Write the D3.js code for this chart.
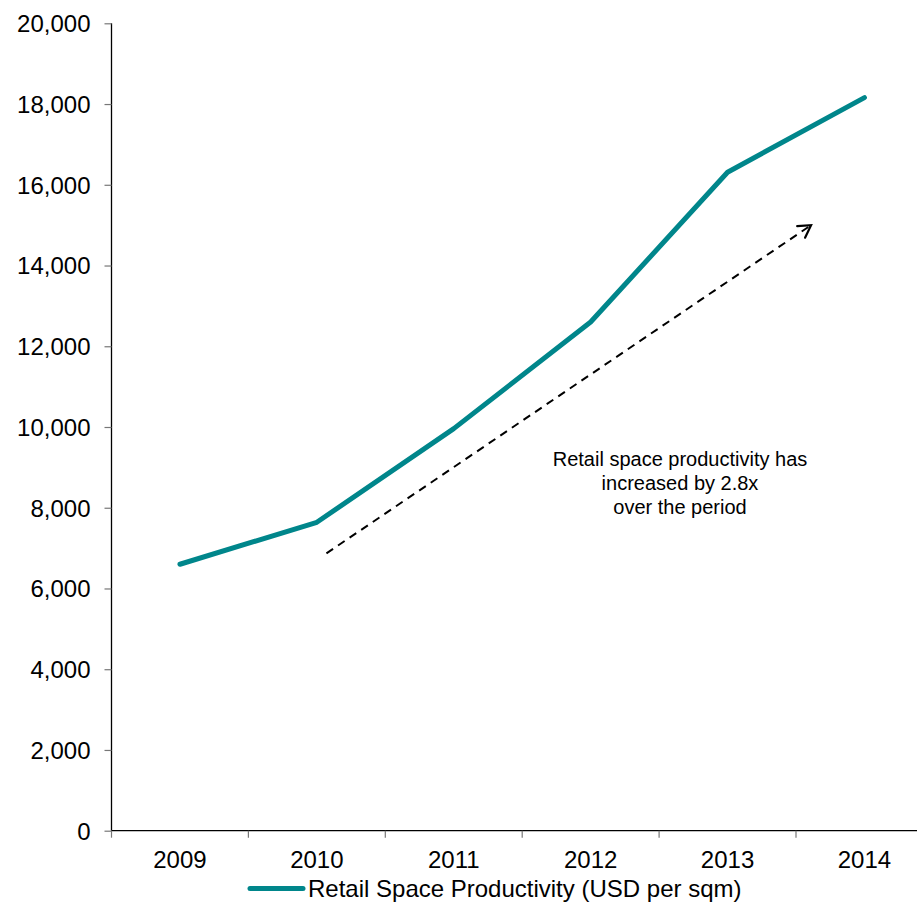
<!DOCTYPE html>
<html>
<head>
<meta charset="utf-8">
<script src="https://cdn.jsdelivr.net/npm/d3@7"></script>
<style>
  html, body { margin: 0; padding: 0; background: #fff; }
  svg { display: block; font-family: "Liberation Sans", Arial, sans-serif; }
</style>
</head>
<body>
<svg id="chart" width="917" height="910"></svg>
<script>
// Retail space productivity, USD per sqm
const years = ["2009", "2010", "2011", "2012", "2013", "2014"];
const productivity = [6600, 7640, 9960, 12600, 16310, 18160];
const yTicks = [0, 2000, 4000, 6000, 8000, 10000, 12000, 14000, 16000, 18000, 20000];
const seriesName = "Retail Space Productivity (USD per sqm)";
const noteLines = ["Retail space productivity has", "increased by 2.8x", "over the period"];
// trend arrow ends: [category position, value]
const trendFrom = [1.57, 6870];
const trendTo = [5.11, 15000];

const teal = "#00868b";
const svg = d3.select("#chart");

const left = 111.5, bandW = 136.9;
const x = d3.scaleBand().domain(years).range([left, left + bandW * years.length]).padding(0);
const y = d3.scaleLinear().domain([0, 20000]).range([830.7, 23.3]);
const xPos = p => left + p * x.bandwidth();

// y axis
const yAxis = d3.axisLeft(y).tickValues(yTicks).tickFormat(d3.format(",")).tickSize(7).tickPadding(14);
const gy = svg.append("g").attr("transform", `translate(${left},0)`).call(yAxis);
gy.select(".domain").attr("stroke", "#000").attr("stroke-width", 1.3).attr("d", `M0,${y(20000)}V${y(0)}`);
gy.selectAll(".tick line").attr("stroke", "#777").attr("stroke-width", 1.2);
gy.selectAll(".tick text").attr("font-size", 24).attr("fill", "#000")
  .attr("font-family", "'Liberation Sans', Arial, sans-serif").attr("dy", "0.35em");

// x axis with ticks on the category boundaries
const gx = svg.append("g").attr("transform", `translate(0,${y(0)})`);
gx.append("line").attr("x1", left).attr("x2", 917).attr("stroke", "#000").attr("stroke-width", 1.3);
gx.selectAll("line.bound").data(years).join("line").attr("class", "bound")
  .attr("x1", d => x(d)).attr("x2", d => x(d)).attr("y1", 0).attr("y2", 7)
  .attr("stroke", "#777").attr("stroke-width", 1.2);
gx.selectAll("text").data(years).join("text")
  .attr("x", d => x(d) + x.bandwidth() / 2).attr("y", 37)
  .attr("text-anchor", "middle").attr("font-size", 24).attr("fill", "#000").text(d => d);

// series line
const pts = years.map((yr, i) => [x(yr) + x.bandwidth() / 2, y(productivity[i])]);
svg.append("path").datum(pts)
  .attr("d", d3.line())
  .attr("fill", "none").attr("stroke", teal).attr("stroke-width", 5)
  .attr("stroke-linecap", "round").attr("stroke-linejoin", "round");

// dashed trend arrow
const defs = svg.append("defs");
defs.append("marker").attr("id", "head").attr("markerUnits", "userSpaceOnUse")
  .attr("viewBox", "-14 -9 16 18").attr("refX", 0).attr("refY", 0)
  .attr("markerWidth", 16).attr("markerHeight", 18).attr("orient", "auto")
  .append("path").attr("d", "M-12,-7L0,0L-12,7").attr("fill", "none")
  .attr("stroke", "#000").attr("stroke-width", 2.2).attr("stroke-linecap", "round");
svg.append("line")
  .attr("x1", xPos(trendFrom[0])).attr("y1", y(trendFrom[1]))
  .attr("x2", xPos(trendTo[0])).attr("y2", y(trendTo[1]))
  .attr("stroke", "#000").attr("stroke-width", 2).attr("stroke-dasharray", "8,6")
  .attr("marker-end", "url(#head)");

// annotation
const note = svg.append("text").attr("text-anchor", "middle").attr("font-size", 20).attr("fill", "#000");
note.selectAll("tspan").data(noteLines).join("tspan")
  .attr("x", 680).attr("y", (d, i) => 466 + i * 24).text(d => d);

// legend
const lg = svg.append("g");
lg.append("line").attr("x1", 250).attr("x2", 303).attr("y1", 888.5).attr("y2", 888.5)
  .attr("stroke", teal).attr("stroke-width", 5).attr("stroke-linecap", "round");
lg.append("text").attr("x", 308).attr("y", 897).attr("font-size", 24).attr("fill", "#000").text(seriesName);
</script>
</body>
</html>
